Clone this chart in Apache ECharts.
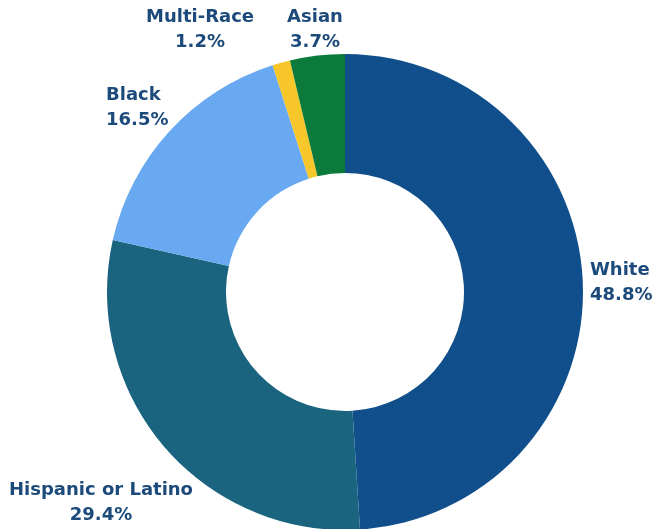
<!DOCTYPE html>
<html>
<head>
<meta charset="utf-8">
<script src="https://cdn.jsdelivr.net/npm/echarts@6/dist/echarts.min.js"></script>
<style>
html,body{margin:0;padding:0;background:#fff;}
#main{width:655px;height:529px;}
</style>
</head>
<body>
<div id="main"></div>
<script>
const categories = ['White', 'Hispanic or Latino', 'Black', 'Multi-Race', 'Asian'];
const values = [48.8, 29.4, 16.5, 1.2, 3.7];
const colors = ['#104f8b', '#1b6480', '#68a9f1', '#f7c72a', '#0c7a3b'];

const labelPos = [
  {x: 590, y: 283, align: 'left'},
  {x: 101, y: 503, align: 'center'},
  {x: 106, y: 108, align: 'left'},
  {x: 200, y: 30, align: 'center'},
  {x: 315, y: 30, align: 'center'}
];

const chart = echarts.init(document.getElementById('main'));
chart.setOption({
  animation: false,
  series: [{
    type: 'pie',
    center: [345, 292],
    radius: [119, 238],
    startAngle: 90,
    clockwise: true,
    avoidLabelOverlap: false,
    data: categories.map((c, i) => ({name: c, value: values[i], itemStyle: {color: colors[i]}})),
    label: {
      show: true,
      position: 'outside',
      formatter: p => p.name + '\n' + p.value.toFixed(1) + '%',
      color: '#1c4a7a',
      fontFamily: 'DejaVu Sans',
      fontWeight: 'bold',
      fontSize: 18,
      lineHeight: 25
    },
    labelLine: {show: false},
    labelLayout: function (params) {
      const p = labelPos[params.dataIndex];
      return {x: p.x, y: p.y, align: p.align, verticalAlign: 'middle'};
    }
  }]
});
</script>
</body>
</html>
